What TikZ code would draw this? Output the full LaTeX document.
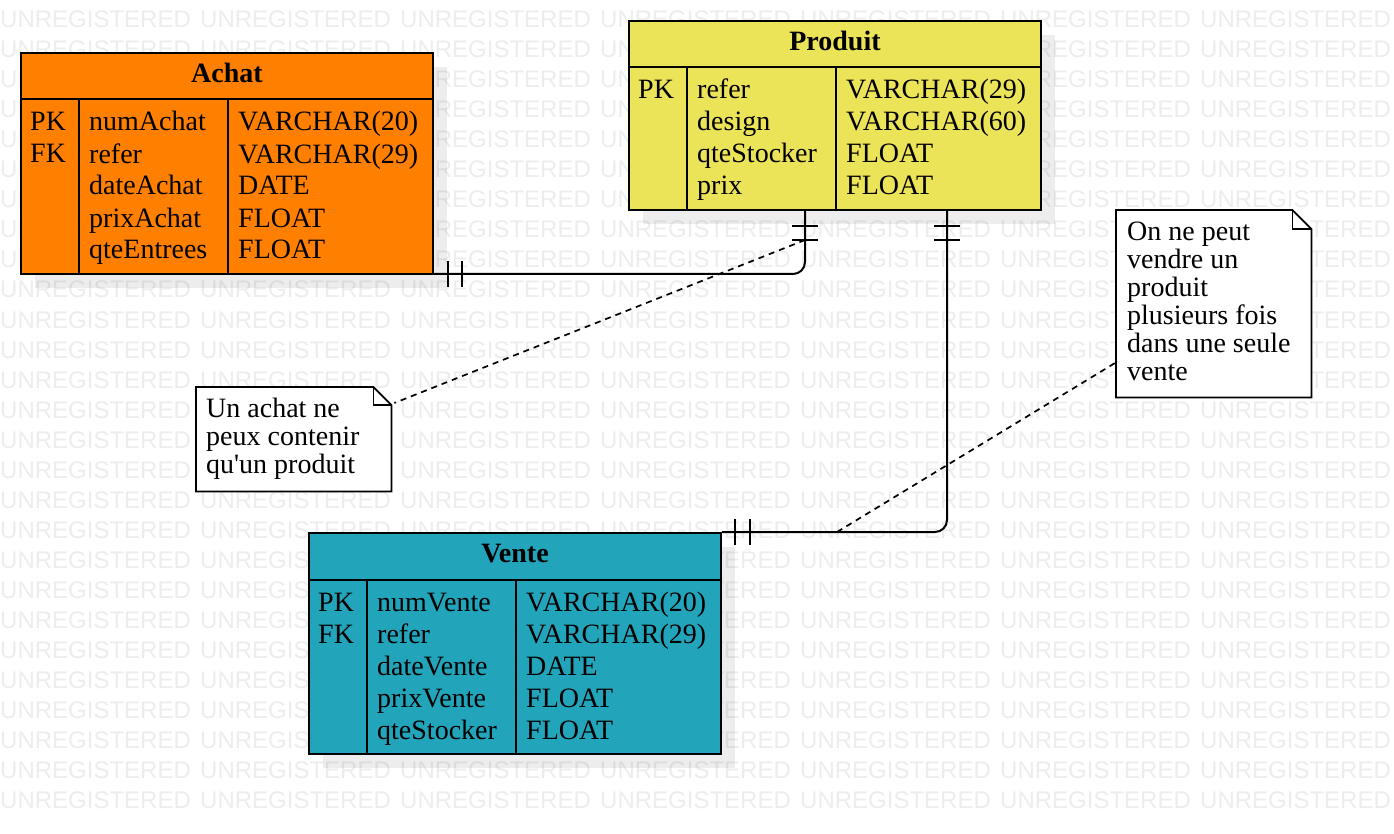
\documentclass[tikz,border=0pt]{standalone}
\usepackage{fontspec}
\setmainfont{Liberation Serif}
\newfontfamily\wmfont{Liberation Sans}
\usetikzlibrary{calc,shadows}
\definecolor{achatc}{RGB}{255,128,0}
\definecolor{produitc}{RGB}{236,228,88}
\definecolor{ventec}{RGB}{34,164,186}
\definecolor{wmc}{RGB}{237,237,237}
\begin{document}
\begin{tikzpicture}[x=1pt,y=-1pt,
  wm/.style={anchor=base west,inner sep=0pt,text=wmc,font=\wmfont\fontsize{24}{24}\selectfont},
  tbl/.style={draw=black,line width=2pt,inner sep=0pt,anchor=north west,minimum width=412pt,
    drop shadow={shadow xshift=14pt,shadow yshift=-14pt,fill=black,opacity=0.07}},
  tline/.style={draw=black,line width=2pt},
  cell/.style={anchor=base west,inner sep=0pt,align=left,font=\fontsize{28}{32}\selectfont},
  ttl/.style={inner sep=0pt,font=\bfseries\fontsize{28}{32}\selectfont},
  conn/.style={draw=black,line width=2pt},
  dashline/.style={draw=black,line width=1.7pt,dash pattern=on 6pt off 5pt},
  noteanchor/.style={anchor=north west,inner sep=0pt,draw=none},
  noteline/.style={draw=black,line width=1.8pt,fill=white,line join=miter},
  notetext/.style={anchor=base west,inner sep=0pt,align=left,font=\fontsize{28}{28}\selectfont}]
\useasboundingbox (0,0) rectangle (1394,834);
\clip (0,0) rectangle (1394,834);
\fill[white] (0,0) rectangle (1394,834);
% watermark
\foreach \r in {0,...,27}{
  \foreach \c in {0,...,6}{
    \node[wm] (wm-\r-\c) at (\c*200,-2+\r*30) {UNREGISTERED};
  }
}
% ---------- Achat ----------
\node[tbl,fill=achatc,minimum height=221pt] (achat) at (20,52) {};
\draw[tline] ($(achat.north west)+(0,47)$) -- ($(achat.north east)+(0,47)$);
\draw[tline] ($(achat.north west)+(59,47)$) -- ($(achat.south west)+(59,0)$);
\draw[tline] ($(achat.north west)+(208,47)$) -- ($(achat.south west)+(208,0)$);
\node[ttl] (achatt) at ($(achat.north)+(0,21)$) {Achat};
\node[cell] (achatk) at ($(achat.north west)+(10,111)$) {PK\\FK};
\node[cell] (achatn) at ($(achat.north west)+(69,207)$) {numAchat\\refer\\dateAchat\\prixAchat\\qteEntrees};
\node[cell] (achatty) at ($(achat.north west)+(218,207)$) {VARCHAR(20)\\VARCHAR(29)\\DATE\\FLOAT\\FLOAT};
% ---------- Produit ----------
\node[tbl,fill=produitc,minimum height=189pt] (produit) at (628,20) {};
\draw[tline] ($(produit.north west)+(0,47)$) -- ($(produit.north east)+(0,47)$);
\draw[tline] ($(produit.north west)+(59,47)$) -- ($(produit.south west)+(59,0)$);
\draw[tline] ($(produit.north west)+(208,47)$) -- ($(produit.south west)+(208,0)$);
\node[ttl] (produitt) at ($(produit.north)+(0,21)$) {Produit};
\node[cell] (produitk) at ($(produit.north west)+(10,79)$) {PK};
\node[cell] (produitn) at ($(produit.north west)+(69,175)$) {refer\\design\\qteStocker\\prix};
\node[cell] (produitty) at ($(produit.north west)+(218,175)$) {VARCHAR(29)\\VARCHAR(60)\\FLOAT\\FLOAT};
% ---------- Vente ----------
\node[tbl,fill=ventec,minimum height=221pt] (vente) at (308,532) {};
\draw[tline] ($(vente.north west)+(0,48)$) -- ($(vente.north east)+(0,48)$);
\draw[tline] ($(vente.north west)+(59,48)$) -- ($(vente.south west)+(59,0)$);
\draw[tline] ($(vente.north west)+(208,48)$) -- ($(vente.south west)+(208,0)$);
\node[ttl] (ventet) at ($(vente.north)+(0,21.5)$) {Vente};
\node[cell] (ventek) at ($(vente.north west)+(10,111)$) {PK\\FK};
\node[cell] (venten) at ($(vente.north west)+(69,207)$) {numVente\\refer\\dateVente\\prixVente\\qteStocker};
\node[cell] (ventety) at ($(vente.north west)+(218,207)$) {VARCHAR(20)\\VARCHAR(29)\\DATE\\FLOAT\\FLOAT};
% ---------- connectors ----------
\coordinate (a1) at ($(achat.south east)+(0,-1)$);
\coordinate (p1) at ($(produit.south west)+(177,0)$);
\coordinate (p2) at ($(produit.south west)+(319,0)$);
\coordinate (v1) at (vente.north east);
\draw[conn,rounded corners=12pt] (a1) -| (p1);
\draw[conn,rounded corners=12pt] (p2) |- (v1);
% one-and-only-one marks
\draw[conn] ($(a1)+(14,-13)$) -- ($(a1)+(14,13)$);
\draw[conn] ($(a1)+(28,-13)$) -- ($(a1)+(28,13)$);
\draw[conn] ($(p1)+(-13,15)$) -- ($(p1)+(13,15)$);
\draw[conn] ($(p1)+(-13,29)$) -- ($(p1)+(13,29)$);
\draw[conn] ($(p2)+(-13,15)$) -- ($(p2)+(13,15)$);
\draw[conn] ($(p2)+(-13,29)$) -- ($(p2)+(13,29)$);
\draw[conn] ($(v1)+(13,-13)$) -- ($(v1)+(13,13)$);
\draw[conn] ($(v1)+(28,-13)$) -- ($(v1)+(28,13)$);
% ---------- notes ----------
\node[noteanchor,minimum width=195pt,minimum height=104pt] (note1) at (196,387) {};
\draw[noteline] (note1.north west) -- ($(note1.north east)+(-18,0)$) -- ($(note1.north east)+(0,18)$)
  -- (note1.south east) -- (note1.south west) -- cycle;
\draw[line width=1.8pt] ($(note1.north east)+(-18,0)$) -- ($(note1.north east)+(-18,18)$) -- ($(note1.north east)+(0,18)$);
\node[notetext] (note1t) at ($(note1.north west)+(10,86)$) {Un achat ne\\peux contenir\\qu\textquotesingle un produit};
\node[noteanchor,minimum width=195pt,minimum height=187pt] (note2) at (1116,210) {};
\draw[noteline] (note2.north west) -- ($(note2.north east)+(-19,0)$) -- ($(note2.north east)+(0,19)$)
  -- (note2.south east) -- (note2.south west) -- cycle;
\draw[line width=1.8pt] ($(note2.north east)+(-19,0)$) -- ($(note2.north east)+(-19,19)$) -- ($(note2.north east)+(0,19)$);
\node[notetext] (note2t) at ($(note2.north west)+(11,170)$) {On ne peut\\vendre un\\produit\\plusieurs fois\\dans une seule\\vente};
% dashed links
\draw[dashline] ($(p1)+(0,29)$) -- ($(note1.north east)+(3,16)$);
\draw[dashline] ($(v1)+(115,0)$) -- ($(note2.south west)+(0,-35)$);
\end{tikzpicture}
\end{document}
